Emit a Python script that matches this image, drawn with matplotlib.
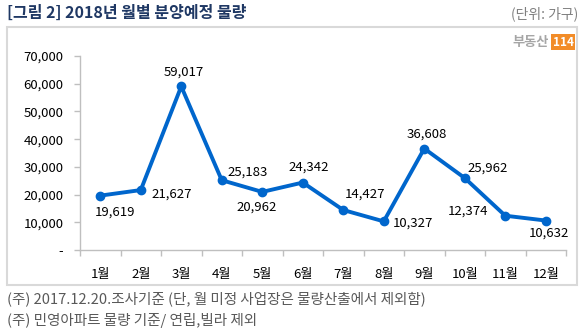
import matplotlib
matplotlib.use("Agg")
import matplotlib.pyplot as plt
from matplotlib.patches import Rectangle

plt.rcParams['font.family'] = ['Noto Sans CJK KR', 'DejaVu Sans']

months = ['1월', '2월', '3월', '4월', '5월', '6월', '7월', '8월', '9월', '10월', '11월', '12월']
values = [19619, 21627, 59017, 25183, 20962, 24342, 14427, 10327, 36608, 25962, 12374, 10632]
yticks = [0, 10000, 20000, 30000, 40000, 50000, 60000, 70000]
ytick_labels = ['-', '10,000', '20,000', '30,000', '40,000', '50,000', '60,000', '70,000']
# label placement: offset in pixels (dx, dy) for label centre
label_pos = [(15, -17), (31, -4), (3, 14), (26, 8), (-6, -15), (6, 15),
             (22, 16), (29, -2), (3, 14), (23, 10), (-37, 5), (3, -13)]

W, H = 586, 333
fig = plt.figure(figsize=(W / 100, H / 100), dpi=100)

def fx(px):
    return px / W

def fy(py):
    return 1 - py / H

# outer frame
fig.patches.append(Rectangle((fx(7), fy(285)), fx(577) - fx(7), fy(27) - fy(285),
                             transform=fig.transFigure, fill=False, edgecolor='#D9D9D9', lw=1.5))

ax = fig.add_axes([fx(80), fy(250), fx(566) - fx(80), fy(56) - fy(250)])
x = list(range(len(months)))
ax.plot(x, values, color='#0066CC', lw=2.8, marker='o', markersize=6, solid_joinstyle='round')
ax.set_xlim(-0.5, len(months) - 0.5)
ax.set_ylim(0, 70000)
ax.set_yticks(yticks)
ax.set_yticklabels(ytick_labels)
ax.set_xticks(x)
ax.set_xticklabels(months)
ax.set_xticks([i - 0.5 for i in range(len(months) + 1)], minor=True)
ax.tick_params(axis='x', which='major', length=0, pad=13, labelsize=9.5, colors='#000000')
ax.tick_params(axis='x', which='minor', length=4, color='#BFBFBF', width=1)
ax.tick_params(axis='y', length=4, color='#BFBFBF', width=1, labelsize=9.5, pad=8)
for s in ['top', 'right']:
    ax.spines[s].set_visible(False)
for s in ['left', 'bottom']:
    ax.spines[s].set_color('#BFBFBF')
    ax.spines[s].set_linewidth(1)

for i, v in enumerate(values):
    dx, dy = label_pos[i]
    ax.annotate(f'{v:,}', (i, v), xytext=(dx, dy), textcoords='offset pixels',
                ha='center', va='center', fontsize=9.5, color='#000000')

fig.text(fx(7), fy(13), '[그림 2] 2018년 월별 분양예정 물량', fontsize=11.5, fontweight='bold',
         color='#1F3864', ha='left', va='center')
fig.text(fx(578), fy(14), '(단위: 가구)', fontsize=10, color='#7F7F7F', ha='right', va='center')
fig.text(fx(549), fy(42), '부동산', fontsize=9.5, fontweight='bold', color='#A6A6A6', ha='right', va='center')
fig.text(fx(563), fy(42), '114', fontsize=8.5, fontweight='bold', color='white', ha='center', va='center',
         bbox=dict(boxstyle='square,pad=0.15', facecolor='#F28C28', edgecolor='none'))

fig.text(fx(7), fy(299), '(주) 2017.12.20.조사기준 (단, 월 미정 사업장은 물량산출에서 제외함)',
         fontsize=10.5, color='#595959', ha='left', va='center')
fig.text(fx(7), fy(321), '(주) 민영아파트 물량 기준/ 연립,빌라 제외',
         fontsize=10.5, color='#595959', ha='left', va='center')

fig.savefig('out.png', dpi=100)
